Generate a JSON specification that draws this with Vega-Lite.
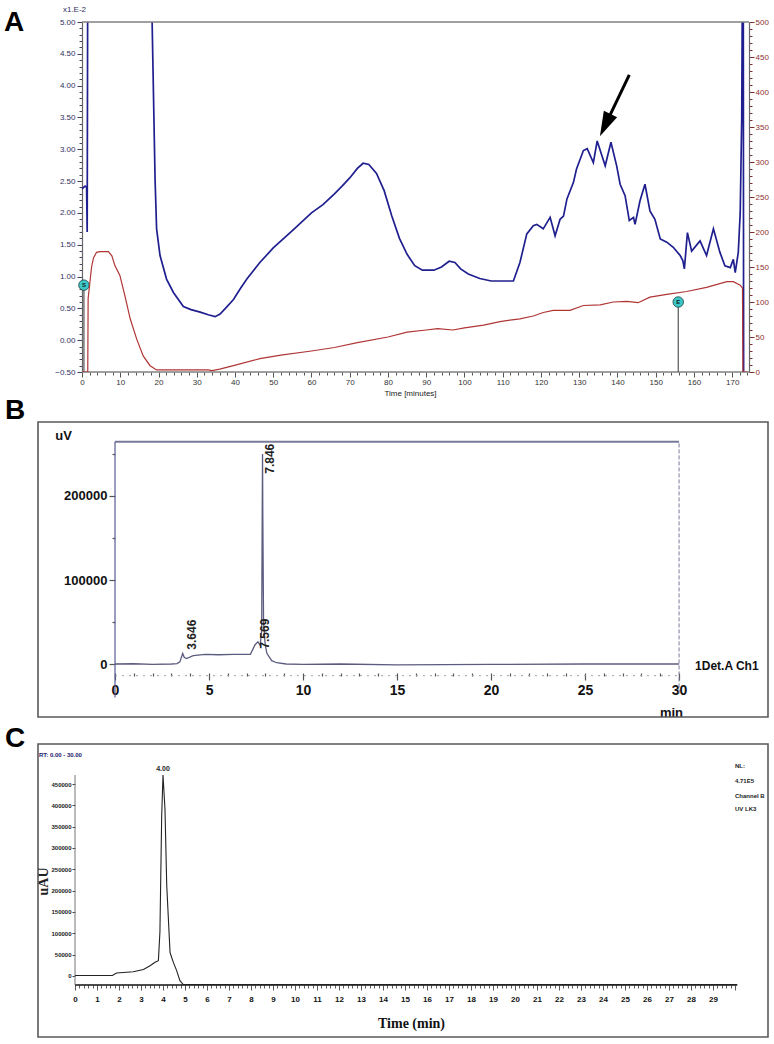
{
  "$schema": "https://vega.github.io/schema/vega-lite/v6.json",
  "background": "white",
  "autosize": {"type": "pad"},
  "padding": {"left": 4, "top": 5, "right": 2, "bottom": 2},
  "spacing": 27,
  "bounds": "flush",
  "config": {
    "view": {"stroke": null},
    "font": "Liberation Sans",
    "axis": {"grid": false, "labelOverlap": false, "tickCount": 1000, "labelFont": "Liberation Sans", "titleFont": "Liberation Sans"}
  },
  "vconcat": [
    {
      "width": 711,
      "height": 350,
      "layer": [
        {
          "layer": [
            {
              "data": {"values": [
                {"t":0,"v":2.38},{"t":0.8,"v":2.42},{"t":1.2,"v":2.4},{"t":1.35,"v":1.7},{"t":1.5,"v":6},{"t":18.0,"v":6},{"t":18.3,"v":5.1},{"t":19.1,"v":2.53},{"t":19.5,"v":1.75},{"t":20.4,"v":1.33},{"t":22.1,"v":0.96},{"t":23.9,"v":0.75},{"t":26.5,"v":0.53},{"t":28.5,"v":0.48},{"t":30.9,"v":0.44},{"t":33.0,"v":0.4},{"t":34.8,"v":0.37},{"t":36.1,"v":0.41},{"t":37.8,"v":0.52},{"t":39.6,"v":0.64},{"t":41.5,"v":0.82},{"t":43.1,"v":0.96},{"t":46.5,"v":1.22},{"t":50,"v":1.45},{"t":55,"v":1.72},{"t":60,"v":2.0},{"t":63,"v":2.13},{"t":66,"v":2.3},{"t":68,"v":2.42},{"t":70,"v":2.55},{"t":72,"v":2.7},{"t":73.5,"v":2.78},{"t":75,"v":2.76},{"t":77,"v":2.62},{"t":79,"v":2.35},{"t":81,"v":1.95},{"t":83,"v":1.6},{"t":85,"v":1.35},{"t":87,"v":1.17},{"t":89,"v":1.1},{"t":92,"v":1.1},{"t":94,"v":1.15},{"t":96,"v":1.24},{"t":97.5,"v":1.22},{"t":99,"v":1.12},{"t":101,"v":1.04},{"t":104,"v":0.97},{"t":107,"v":0.93},{"t":109.3,"v":0.93},{"t":112.8,"v":0.93},{"t":114.5,"v":1.22},{"t":116.3,"v":1.67},{"t":118.0,"v":1.8},{"t":118.9,"v":1.82},{"t":120.6,"v":1.75},{"t":122.4,"v":1.93},{"t":123.7,"v":1.64},{"t":125.0,"v":1.9},{"t":125.9,"v":1.95},{"t":126.8,"v":2.22},{"t":128.5,"v":2.48},{"t":129.3,"v":2.69},{"t":131.1,"v":2.98},{"t":132.1,"v":3.01},{"t":133.7,"v":2.79},{"t":134.7,"v":3.13},{"t":136.8,"v":2.74},{"t":138.3,"v":3.11},{"t":139.8,"v":2.74},{"t":140.7,"v":2.45},{"t":142.0,"v":2.27},{"t":143.1,"v":1.88},{"t":144.2,"v":1.93},{"t":144.6,"v":1.82},{"t":145.9,"v":2.19},{"t":147.2,"v":2.45},{"t":148.5,"v":2.03},{"t":149.8,"v":1.9},{"t":151.2,"v":1.59},{"t":152.9,"v":1.54},{"t":154.6,"v":1.46},{"t":156.4,"v":1.33},{"t":157.1,"v":1.25},{"t":157.5,"v":1.12},{"t":158.3,"v":1.69},{"t":159.4,"v":1.4},{"t":161.6,"v":1.56},{"t":163.3,"v":1.33},{"t":165.1,"v":1.75},{"t":166.8,"v":1.38},{"t":168.1,"v":1.17},{"t":169.5,"v":1.14},{"t":170.3,"v":1.27},{"t":170.8,"v":1.06},{"t":171.6,"v":1.38},{"t":172.1,"v":2.0},{"t":172.5,"v":3.5},{"t":172.7,"v":6},{"t":172.9,"v":6},{"t":173.0,"v":-1}
              ]},
              "mark": {"type": "line", "color": "#1f1f8f", "strokeWidth": 1.7, "clip": true},
              "encoding": {
                "x": {
                  "field": "t", "type": "quantitative",
                  "scale": {"domain": [-11.51, 174.4], "nice": false, "zero": false},
                  "axis": {
                    "values": [0,2,4,6,8,10,12,14,16,18,20,22,24,26,28,30,32,34,36,38,40,42,44,46,48,50,52,54,56,58,60,62,64,66,68,70,72,74,76,78,80,82,84,86,88,90,92,94,96,98,100,102,104,106,108,110,112,114,116,118,120,122,124,126,128,130,132,134,136,138,140,142,144,146,148,150,152,154,156,158,160,162,164,166,168,170,172,174],
                    "tickCount": 1000,
                    "labelExpr": "datum.value % 10 === 0 ? datum.label : ''",
                    "format": "d",
                    "labelOverlap": false,
                    "domain": false,
                    "tickColor": "#555",
                    "tickSize": {"condition": {"test": "datum.value % 10 === 0", "value": 5}, "value": 3},
                    "labelFontSize": 8, "labelColor": "#333", "labelPadding": 1,
                    "title": "Time [minutes]", "titleFontSize": 8, "titleFontWeight": "normal", "titleColor": "#222",
                    "titleX": 372, "titleY": 21, "titleBaseline": "middle", "titleAlign": "center"
                  }
                },
                "y": {
                  "field": "v", "type": "quantitative",
                  "scale": {"domain": [-0.5, 5], "nice": false, "zero": false},
                  "axis": {
                    "orient": "left", "offset": -44,
                    "values": [-0.5,-0.4,-0.3,-0.2,-0.1,0,0.1,0.2,0.3,0.4,0.5,0.6,0.7,0.8,0.9,1.0,1.1,1.2,1.3,1.4,1.5,1.6,1.7,1.8,1.9,2.0,2.1,2.2,2.3,2.4,2.5,2.6,2.7,2.8,2.9,3.0,3.1,3.2,3.3,3.4,3.5,3.6,3.7,3.8,3.9,4.0,4.1,4.2,4.3,4.4,4.5,4.6,4.7,4.8,4.9,5.0],
                    "tickCount": 1000,
                    "labelExpr": "abs(round(datum.value*10)) % 5 === 0 ? format(datum.value, '.2f') : ''",
                    "labelOverlap": false,
                    "tickSize": {"condition": {"test": "abs(round(datum.value*10)) % 5 === 0", "value": 5}, "value": 3},
                    "tickColor": "#444466", "domainColor": "#666", "domainWidth": 1.2,
                    "labelFontSize": 8, "labelColor": "#303060", "labelPadding": 2,
                    "title": "x1.E-2", "titleAngle": 0, "titleFontSize": 8, "titleFontWeight": "normal", "titleColor": "#303060",
                    "titleX": -8, "titleY": -13, "titleAlign": "center", "titleBaseline": "middle"
                  }
                }
              }
            },
            {
              "data": {"values": [{"a": 0, "b": 174.4, "y": 5}, {"a": 0, "b": 174.4, "y": -0.5}]},
              "mark": {"type": "rule", "color": "#808080", "strokeWidth": 1.5},
              "encoding": {
                "x": {"field": "a", "type": "quantitative"},
                "x2": {"field": "b"},
                "y": {"field": "y", "type": "quantitative"}
              }
            },
            {
              "data": {"values": [{"t": 0.5, "v": 0.865, "v0": -0.5, "lab": "S"}, {"t": 155.9, "v": 0.6, "v0": -0.5, "lab": "E"}]},
              "layer": [
                {
                  "mark": {"type": "rule", "color": "#555", "strokeWidth": 1.2},
                  "encoding": {
                    "x": {"field": "t", "type": "quantitative"},
                    "y": {"field": "v", "type": "quantitative"},
                    "y2": {"field": "v0"}
                  }
                },
                {
                  "mark": {"type": "point", "shape": "circle", "filled": true, "fill": "#3cc8c8", "stroke": "#1a4040", "strokeWidth": 0.8, "size": 110, "opacity": 1},
                  "encoding": {
                    "x": {"field": "t", "type": "quantitative"},
                    "y": {"field": "v", "type": "quantitative"}
                  }
                },
                {
                  "mark": {"type": "text", "fontSize": 6, "fontWeight": "bold", "color": "#102020", "align": "center", "baseline": "middle"},
                  "encoding": {
                    "x": {"field": "t", "type": "quantitative"},
                    "y": {"field": "v", "type": "quantitative"},
                    "text": {"field": "lab"}
                  }
                }
              ]
            },
            {
              "data": {"values": [{"x1": 143.1, "y1": 4.17, "x2": 136.8, "y2": 3.38}]},
              "mark": {"type": "rule", "color": "#000", "strokeWidth": 3},
              "encoding": {
                "x": {"field": "x1", "type": "quantitative"},
                "y": {"field": "y1", "type": "quantitative"},
                "x2": {"field": "x2"},
                "y2": {"field": "y2"}
              }
            },
            {
              "data": {"values": [{"t": 136.8, "v": 3.38}]},
              "mark": {"type": "point", "shape": "M0,-1L-0.6,1L0.6,1Z", "angle": 205.5, "filled": true, "color": "#000", "size": 600, "opacity": 1},
              "encoding": {
                "x": {"field": "t", "type": "quantitative"},
                "y": {"field": "v", "type": "quantitative"}
              }
            },
            {
              "data": {"values": [{"t": -20.4, "v": 4.858, "lab": "A"}]},
              "mark": {"type": "text", "fontSize": 28, "fontWeight": "bold", "font": "Liberation Sans", "color": "#000", "align": "left", "baseline": "alphabetic"},
              "encoding": {
                "x": {"field": "t", "type": "quantitative"},
                "y": {"field": "v", "type": "quantitative"},
                "text": {"field": "lab"}
              }
            }
          ]
        },
        {
          "data": {"values": [
            {"t":0,"r":0},{"t":1.5,"r":0},{"t":1.6,"r":105},{"t":2.0,"r":125},{"t":2.5,"r":150},{"t":3.0,"r":163},{"t":3.8,"r":171},{"t":4.7,"r":172},{"t":6.9,"r":172},{"t":7.8,"r":166},{"t":8.6,"r":152},{"t":9.9,"r":138},{"t":11.2,"r":109},{"t":12.6,"r":76},{"t":14.3,"r":47},{"t":16.0,"r":23},{"t":17.8,"r":9},{"t":19.5,"r":3},{"t":25,"r":3},{"t":33,"r":3},{"t":34,"r":2},{"t":36,"r":4},{"t":39.6,"r":9},{"t":46.5,"r":19},{"t":52,"r":24},{"t":60,"r":30},{"t":66,"r":35},{"t":72,"r":42},{"t":80,"r":50},{"t":85,"r":57},{"t":90,"r":60},{"t":93,"r":62},{"t":97,"r":60},{"t":100,"r":63},{"t":105,"r":67},{"t":109.3,"r":72},{"t":114.5,"r":76},{"t":118,"r":80},{"t":120.6,"r":85},{"t":123.2,"r":88},{"t":127.6,"r":88},{"t":131.1,"r":95},{"t":135.5,"r":96},{"t":138.9,"r":100},{"t":142.4,"r":101},{"t":145.4,"r":99},{"t":148.5,"r":107},{"t":152.9,"r":111},{"t":158.1,"r":115},{"t":163.3,"r":121},{"t":168.6,"r":129},{"t":170.3,"r":129},{"t":172.1,"r":124},{"t":172.7,"r":120},{"t":172.8,"r":0},{"t":174,"r":0}
          ]},
          "mark": {"type": "line", "color": "#b03535", "strokeWidth": 1.2, "clip": true},
          "encoding": {
            "x": {"field": "t", "type": "quantitative"},
            "y": {
              "field": "r", "type": "quantitative",
              "scale": {"domain": [0, 500], "nice": false, "zero": false},
              "axis": {
                "orient": "right",
                "values": [0,10,20,30,40,50,60,70,80,90,100,110,120,130,140,150,160,170,180,190,200,210,220,230,240,250,260,270,280,290,300,310,320,330,340,350,360,370,380,390,400,410,420,430,440,450,460,470,480,490,500],
                "tickCount": 1000,
                "labelExpr": "datum.value % 50 === 0 ? format(datum.value, 'd') : ''",
                "labelOverlap": false,
                "tickSize": {"condition": {"test": "datum.value % 50 === 0", "value": 5}, "value": 3},
                "tickColor": "#7a3030", "domainColor": "#666", "domainWidth": 1.2,
                "labelFontSize": 8, "labelColor": "#8f2f2f", "labelPadding": 1,
                "title": null
              }
            }
          }
        }
      ],
      "resolve": {"scale": {"y": "independent"}}
    },
    {
      "width": 730,
      "height": 318,
      "layer": [
        {
          "data": {"values": [{"x1": -4.096, "x2": 34.73, "y1": -63095, "y2": 288095}]},
          "mark": {"type": "rect", "filled": false, "stroke": "#5a5a5a", "strokeWidth": 1.6},
          "encoding": {
            "x": {"field": "x1", "type": "quantitative", "scale": {"domain": [-4.096, 34.73], "nice": false, "zero": false}},
            "x2": {"field": "x2"},
            "y": {"field": "y1", "type": "quantitative", "scale": {"domain": [-63095, 315476], "nice": false, "zero": false}},
            "y2": {"field": "y2"}
          }
        },
        {
          "data": {"values": [{"a": 0, "b": 30, "y": 264600}]},
          "mark": {"type": "rule", "color": "#7a7a9a", "strokeWidth": 2},
          "encoding": {"x": {"field": "a", "type": "quantitative"}, "x2": {"field": "b"}, "y": {"field": "y", "type": "quantitative"}}
        },
        {
          "data": {"values": [{"a": 0, "b": 30, "y": -13900}]},
          "mark": {"type": "rule", "color": "#a0a0b4", "strokeWidth": 1, "strokeDash": [2, 5]},
          "encoding": {"x": {"field": "a", "type": "quantitative"}, "x2": {"field": "b"}, "y": {"field": "y", "type": "quantitative"}}
        },
        {
          "data": {"values": [{"x": 0, "y1": -40000, "y2": 264600}]},
          "mark": {"type": "rule", "color": "#5a5a96", "strokeWidth": 1.2},
          "encoding": {"x": {"field": "x", "type": "quantitative"}, "y": {"field": "y1", "type": "quantitative"}, "y2": {"field": "y2"}}
        },
        {
          "data": {"values": [{"x": 30, "y1": -35000, "y2": 264600}]},
          "mark": {"type": "rule", "color": "#7a7a9a", "strokeWidth": 1, "strokeDash": [4, 2]},
          "encoding": {"x": {"field": "x", "type": "quantitative"}, "y": {"field": "y1", "type": "quantitative"}, "y2": {"field": "y2"}}
        },
        {
          "data": {"values": [
            {"t":0,"v":0},{"t":1,"v":300},{"t":2,"v":-500},{"t":3,"v":0},{"t":3.3,"v":500},{"t":3.45,"v":2500},{"t":3.6,"v":12500},{"t":3.68,"v":8000},{"t":3.8,"v":6500},{"t":4.16,"v":10000},{"t":4.8,"v":11500},{"t":5.5,"v":11000},{"t":6.3,"v":11500},{"t":7.2,"v":11500},{"t":7.45,"v":23000},{"t":7.6,"v":26500},{"t":7.72,"v":22000},{"t":7.8,"v":40000},{"t":7.83,"v":180000},{"t":7.846,"v":250000},{"t":7.86,"v":180000},{"t":7.9,"v":50000},{"t":7.98,"v":25000},{"t":8.07,"v":13000},{"t":8.33,"v":4000},{"t":8.6,"v":1500},{"t":9.1,"v":0},{"t":10,"v":-500},{"t":12,"v":0},{"t":15,"v":-1000},{"t":20,"v":-500},{"t":25,"v":0},{"t":30,"v":0}
          ]},
          "mark": {"type": "line", "color": "#5c5c80", "strokeWidth": 1.3},
          "encoding": {
            "x": {
              "field": "t", "type": "quantitative",
              "axis": {
                "orient": "bottom", "offset": -44,
                "values": [0,1,2,3,4,5,6,7,8,9,10,11,12,13,14,15,16,17,18,19,20,21,22,23,24,25,26,27,28,29,30],
                "tickCount": 1000,
                "labelExpr": "datum.value % 5 === 0 ? datum.label : ''",
                "format": "d",
                "labelOverlap": false,
                "domain": false,
                "tickColor": "#555", "tickWidth": 1.2,
                "tickSize": {"condition": {"test": "datum.value % 5 === 0", "value": 7}, "value": 3},
                "labelFont": "Liberation Sans", "labelFontWeight": "bold", "labelFontSize": 14, "labelColor": "#111", "labelPadding": 3,
                "title": "min", "titleFont": "Liberation Sans", "titleFontWeight": "bold", "titleFontSize": 13, "titleColor": "#111",
                "titleX": 633, "titleY": 39, "titleBaseline": "middle", "titleAlign": "center"
              }
            },
            "y": {
              "field": "v", "type": "quantitative",
              "axis": {
                "orient": "left", "offset": -77,
                "values": [0, 50000, 100000, 150000, 200000, 250000],
                "tickCount": 1000,
                "labelExpr": "datum.value % 100000 === 0 ? format(datum.value, 'd') : ''",
                "labelOverlap": false,
                "domain": false,
                "tickColor": "#555", "tickWidth": 1.2,
                "tickSize": {"condition": {"test": "datum.value % 100000 === 0", "value": 6}, "value": 3},
                "labelFont": "Liberation Sans", "labelFontWeight": "bold", "labelFontSize": 13, "labelColor": "#111", "labelPadding": 2,
                "title": "uV", "titleAngle": 0, "titleFont": "Liberation Sans", "titleFontWeight": "bold", "titleFontSize": 13, "titleColor": "#111",
                "titleX": -52, "titleY": 36, "titleBaseline": "middle", "titleAlign": "center"
              }
            }
          }
        },
        {
          "data": {"values": [
            {"x": 4.12, "y": 17000, "lab": "3.646"},
            {"x": 7.98, "y": 18200, "lab": "7.569"},
            {"x": 8.24, "y": 226500, "lab": "7.846"}
          ]},
          "mark": {"type": "text", "angle": 270, "align": "left", "baseline": "middle", "font": "Liberation Sans", "fontWeight": "bold", "fontSize": 12, "color": "#222"},
          "encoding": {"x": {"field": "x", "type": "quantitative"}, "y": {"field": "y", "type": "quantitative"}, "text": {"field": "lab"}}
        },
        {
          "data": {"values": [{"x": 30.85, "y": -2000, "lab": "1Det.A Ch1"}]},
          "mark": {"type": "text", "align": "left", "baseline": "middle", "font": "Liberation Sans", "fontWeight": "bold", "fontSize": 12, "color": "#111"},
          "encoding": {"x": {"field": "x", "type": "quantitative"}, "y": {"field": "y", "type": "quantitative"}, "text": {"field": "lab"}}
        },
        {
          "data": {"values": [{"x": -5.85, "y": 292000, "lab": "B"}]},
          "mark": {"type": "text", "align": "left", "baseline": "alphabetic", "font": "Liberation Sans", "fontWeight": "bold", "fontSize": 28, "color": "#000"},
          "encoding": {"x": {"field": "x", "type": "quantitative"}, "y": {"field": "y", "type": "quantitative"}, "text": {"field": "lab"}}
        }
      ]
    },
    {
      "width": 730,
      "height": 293,
      "layer": [
        {
          "data": {"values": [{"x1": -1.682, "x2": 31.5, "y1": -142969, "y2": 543750}]},
          "mark": {"type": "rect", "filled": false, "stroke": "#5a5a5a", "strokeWidth": 1.6},
          "encoding": {
            "x": {"field": "x1", "type": "quantitative", "scale": {"domain": [-1.682, 31.5], "nice": false, "zero": false}},
            "x2": {"field": "x2"},
            "y": {"field": "y1", "type": "quantitative", "scale": {"domain": [-142969, 543750], "nice": false, "zero": false}},
            "y2": {"field": "y2"}
          }
        },
        {
          "data": {"values": [{"a": 0, "b": 30.1, "y": -21100}]},
          "mark": {"type": "rule", "color": "#111", "strokeWidth": 1.6},
          "encoding": {"x": {"field": "a", "type": "quantitative"}, "x2": {"field": "b"}, "y": {"field": "y", "type": "quantitative"}}
        },
        {
          "data": {"values": [{"x": 0, "y1": -21100, "y2": 471000}]},
          "mark": {"type": "rule", "color": "#777", "strokeWidth": 1},
          "encoding": {"x": {"field": "x", "type": "quantitative"}, "y": {"field": "y1", "type": "quantitative"}, "y2": {"field": "y2"}}
        },
        {
          "data": {"values": [
            {"t":0,"v":1000},{"t":1.7,"v":1000},{"t":1.89,"v":7000},{"t":2.65,"v":10000},{"t":3.11,"v":15000},{"t":3.41,"v":24000},{"t":3.64,"v":32000},{"t":3.79,"v":36000},{"t":3.86,"v":103000},{"t":3.94,"v":375000},{"t":4.0,"v":471000},{"t":4.09,"v":391000},{"t":4.17,"v":212000},{"t":4.32,"v":55000},{"t":4.47,"v":32000},{"t":4.62,"v":12500},{"t":4.77,"v":-11000},{"t":4.92,"v":-20000},{"t":30.1,"v":-20000}
          ]},
          "mark": {"type": "line", "color": "#222", "strokeWidth": 1.1},
          "encoding": {
            "x": {
              "field": "t", "type": "quantitative",
              "axis": {
                "orient": "bottom", "offset": -52,
                "values": [0,0.2,0.4,0.6,0.8,1,1.2,1.4,1.6,1.8,2,2.2,2.4,2.6,2.8,3,3.2,3.4,3.6,3.8,4,4.2,4.4,4.6,4.8,5,5.2,5.4,5.6,5.8,6,6.2,6.4,6.6,6.8,7,7.2,7.4,7.6,7.8,8,8.2,8.4,8.6,8.8,9,9.2,9.4,9.6,9.8,10,10.2,10.4,10.6,10.8,11,11.2,11.4,11.6,11.8,12,12.2,12.4,12.6,12.8,13,13.2,13.4,13.6,13.8,14,14.2,14.4,14.6,14.8,15,15.2,15.4,15.6,15.8,16,16.2,16.4,16.6,16.8,17,17.2,17.4,17.6,17.8,18,18.2,18.4,18.6,18.8,19,19.2,19.4,19.6,19.8,20,20.2,20.4,20.6,20.8,21,21.2,21.4,21.6,21.8,22,22.2,22.4,22.6,22.8,23,23.2,23.4,23.6,23.8,24,24.2,24.4,24.6,24.8,25,25.2,25.4,25.6,25.8,26,26.2,26.4,26.6,26.8,27,27.2,27.4,27.6,27.8,28,28.2,28.4,28.6,28.8,29,29.2,29.4,29.6,29.8,30],
                "tickCount": 1000,
                "labelExpr": "abs(datum.value - round(datum.value)) < 0.01 && datum.value < 29.5 ? format(datum.value, 'd') : ''",
                "labelOverlap": false,
                "domain": false,
                "tickColor": "#333", "tickWidth": 0.8,
                "tickSize": {"condition": {"test": "abs(datum.value - round(datum.value)) < 0.01", "value": 5}, "value": 3},
                "labelFont": "Liberation Sans", "labelFontWeight": "bold", "labelFontSize": 8, "labelColor": "#111", "labelPadding": 5,
                "title": "Time (min)", "titleFont": "Liberation Serif", "titleFontWeight": "bold", "titleFontSize": 14, "titleColor": "#111",
                "titleX": 373, "titleY": 38, "titleBaseline": "middle", "titleAlign": "center"
              }
            },
            "y": {
              "field": "v", "type": "quantitative",
              "axis": {
                "orient": "left", "offset": -37,
                "values": [0, 50000, 100000, 150000, 200000, 250000, 300000, 350000, 400000, 450000],
                "tickCount": 1000,
                "format": "d",
                "labelOverlap": false,
                "domain": false,
                "tickColor": "#444", "tickSize": 3,
                "labelFont": "Liberation Sans", "labelFontWeight": "bold", "labelFontSize": 6, "labelColor": "#222", "labelPadding": 1,
                "title": "uAU", "titleFont": "Liberation Serif", "titleFontWeight": "bold", "titleFontSize": 14, "titleColor": "#222",
                "titleAngle": 270, "titleX": -32, "titleY": 137, "titleBaseline": "middle", "titleAlign": "center"
              }
            }
          }
        },
        {
          "data": {"values": [{"x": 4.0, "y": 485000, "lab": "4.00"}]},
          "mark": {"type": "text", "align": "center", "baseline": "middle", "font": "Liberation Sans", "fontWeight": "bold", "fontSize": 7, "color": "#222"},
          "encoding": {"x": {"field": "x", "type": "quantitative"}, "y": {"field": "y", "type": "quantitative"}, "text": {"field": "lab"}}
        },
        {
          "data": {"values": [{"x": -1.64, "y": 518000, "lab": "RT: 0.00 - 30.00"}]},
          "mark": {"type": "text", "align": "left", "baseline": "middle", "font": "Liberation Sans", "fontWeight": "bold", "fontSize": 6, "color": "#1a1a6e"},
          "encoding": {"x": {"field": "x", "type": "quantitative"}, "y": {"field": "y", "type": "quantitative"}, "text": {"field": "lab"}}
        },
        {
          "data": {"values": [
            {"x": 30.0, "y": 492000, "lab": "NL:"},
            {"x": 30.0, "y": 457000, "lab": "4.71E5"},
            {"x": 30.0, "y": 422000, "lab": "Channel B"},
            {"x": 30.0, "y": 391400, "lab": "UV LK3"}
          ]},
          "mark": {"type": "text", "align": "left", "baseline": "middle", "font": "Liberation Sans", "fontWeight": "bold", "fontSize": 6, "color": "#222"},
          "encoding": {"x": {"field": "x", "type": "quantitative"}, "y": {"field": "y", "type": "quantitative"}, "text": {"field": "lab"}}
        },
        {
          "data": {"values": [{"x": -3.18, "y": 536700, "lab": "C"}]},
          "mark": {"type": "text", "align": "left", "baseline": "alphabetic", "font": "Liberation Sans", "fontWeight": "bold", "fontSize": 28, "color": "#000"},
          "encoding": {"x": {"field": "x", "type": "quantitative"}, "y": {"field": "y", "type": "quantitative"}, "text": {"field": "lab"}}
        }
      ]
    }
  ]
}
